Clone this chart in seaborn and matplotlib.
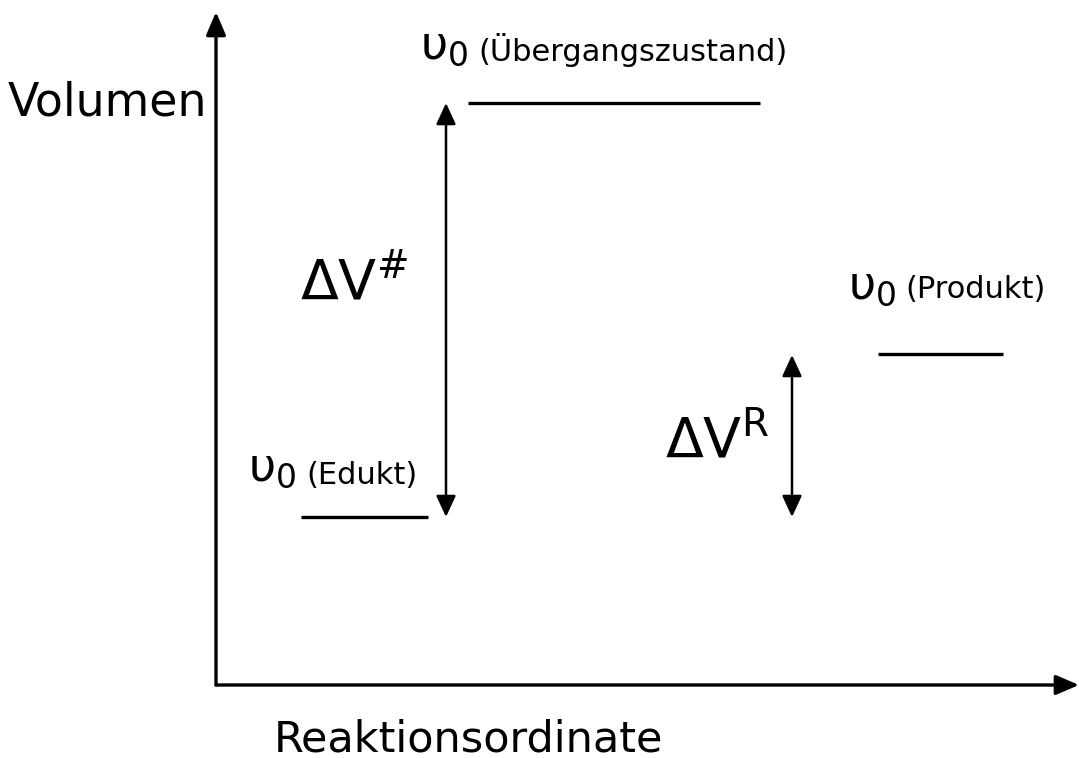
import matplotlib
matplotlib.use("Agg")
import matplotlib.pyplot as plt
import seaborn as sns
import pandas as pd

# Energieniveaus (Volumen) im Reaktionsverlauf
states = ["Edukt", "Übergangszustand", "Produkt"]
x_start = [0.85, 2.52, 6.62]
x_end = [2.12, 5.44, 7.87]
volume = [1.68, 5.82, 3.31]

# Achsenbereich
x_max = 8.63
y_max = 6.73


def build_levels():
    records = []
    for s, x0, x1, v in zip(states, x_start, x_end, volume):
        records.append({"state": s, "x": x0, "volume": v})
        records.append({"state": s, "x": x1, "volume": v})
    return pd.DataFrame(records)


def double_arrow(ax, x, y0, y1):
    props = dict(arrowstyle="<|-|>,head_length=0.65,head_width=0.3",
                 color="black", lw=1.8, shrinkA=0, shrinkB=0,
                 mutation_scale=20)
    ax.annotate("", xy=(x, y1), xytext=(x, y0), arrowprops=props)


def main():
    sns.set_theme(style="white")
    plt.rcParams['font.family'] = ['DejaVu Sans']
    plt.rcParams['mathtext.fontset'] = 'dejavusans'
    plt.rcParams['text.color'] = 'black'

    fig = plt.figure(figsize=(10.79, 7.58), dpi=100)
    ax = fig.add_axes([216 / 1079, 73 / 758, 863 / 1079, 673 / 758])

    df = build_levels()
    sns.lineplot(data=df, x="x", y="volume", units="state", estimator=None,
                 color="black", linewidth=2.4, ax=ax, legend=False)
    for line in ax.lines:
        line.set_solid_capstyle("butt")

    ax.set_xlim(0, x_max)
    ax.set_ylim(0, y_max)
    ax.axis("off")

    # Achsen mit Pfeilspitzen
    axis_props = dict(arrowstyle="-|>,head_length=0.7,head_width=0.3",
                      color="black", lw=2.4, shrinkA=0, shrinkB=0,
                      mutation_scale=20)
    ax.annotate("", xy=(x_max, 0), xytext=(0, 0), arrowprops=axis_props,
                annotation_clip=False)
    ax.annotate("", xy=(0, y_max), xytext=(0, 0), arrowprops=axis_props,
                annotation_clip=False)

    ax.text(-0.09, 5.82, "Volumen", fontsize=33, ha="right", va="center")
    ax.text(2.52, -0.66, "Reaktionsordinate", fontsize=31, ha="center",
            va="baseline")

    # Pfeile für Volumendifferenzen
    double_arrow(ax, 2.30, volume[0], volume[1])
    double_arrow(ax, 5.76, volume[0], 3.30)

    ax.text(0.84, 3.87, r"$\Delta\mathrm{V}^{\#}$", fontsize=40,
            ha="left", va="baseline")
    ax.text(4.49, 2.28, r"$\Delta\mathrm{V}^{\mathrm{R}}$", fontsize=40,
            ha="left", va="baseline")

    # Beschriftung der Niveaus
    upsilon_pos = [(0.32, 2.05), (2.04, 6.26), (6.32, 3.87)]
    label_pos = [(0.90, 2.10), (2.62, 6.35), (6.89, 3.95)]
    for s, (ux, uy), (lx, ly) in zip(states, upsilon_pos, label_pos):
        ax.text(ux, uy, r"$\mathrm{υ}_0$", fontsize=34, ha="left",
                va="baseline")
        ax.text(lx, ly, f"({s})", fontsize=22, ha="left", va="center")

    fig.savefig("out.png", dpi=100)
    plt.close(fig)


if __name__ == "__main__":
    main()
